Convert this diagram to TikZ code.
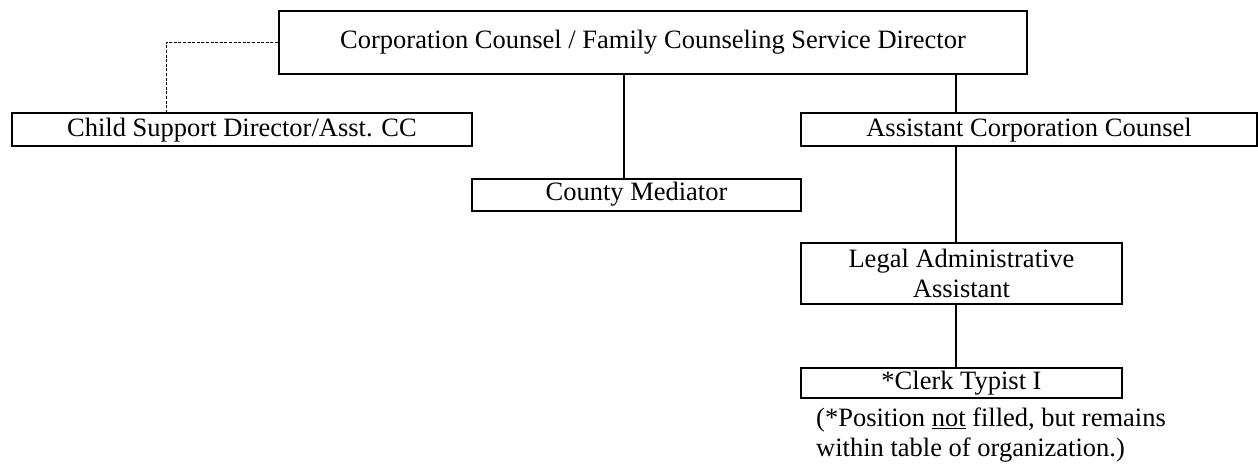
\documentclass[tikz,border=0pt]{standalone}
\usepackage{fontspec}
\setmainfont{Liberation Serif}
\usepackage{tikz}
\usetikzlibrary{positioning}

\begin{document}
\begin{tikzpicture}[x=1pt,y=-1pt,font=\fontsize{26.5}{29.5}\selectfont,
  post/.style={draw=black,line width=2pt,inner sep=0pt,align=center},
  link/.style={line width=2pt},
  dotlink/.style={line width=1pt,dash pattern=on 3pt off 1.6pt}]
\useasboundingbox (0,0) rectangle (1258,468);
\node[post,minimum width=748,minimum height=63] (cc) at (653,42.5) {Corporation Counsel / Family Counseling Service Director};
\node[post,minimum width=460,minimum height=33] (csd) at (242,130) {Child Support Director/Asst. CC};
\node[post,minimum width=329,minimum height=32] (med) at (636.5,194.5) {County Mediator};
\node[post,minimum width=456,minimum height=33] (acc) at (1029,130) {Assistant Corporation Counsel};
\node[post,minimum width=321,minimum height=61] (laa) at (961.5,273.5) {Legal Administrative\\Assistant};
\node[post,minimum width=321,minimum height=30] (clerk) at (961.5,383) {*Clerk Typist I};
\node[anchor=north west,inner sep=0pt,align=left] (note) at (816,408) {(*Position \underline{not} filled, but remains\\within table of organization.)};
% vertical lines
\coordinate (mid) at (624,0);
\coordinate (spine) at (956,0);
\coordinate (side) at (166,0);
\draw[link] (mid |- cc.south) -- (mid |- med.north);
\draw[link] (spine |- cc.south) -- (spine |- acc.north);
\draw[link] (spine |- acc.south) -- (spine |- laa.north);
\draw[link] (spine |- laa.south) -- (spine |- clerk.north);
\draw[dotlink] (cc.west) -| (side |- csd.north);
\end{tikzpicture}
\end{document}
